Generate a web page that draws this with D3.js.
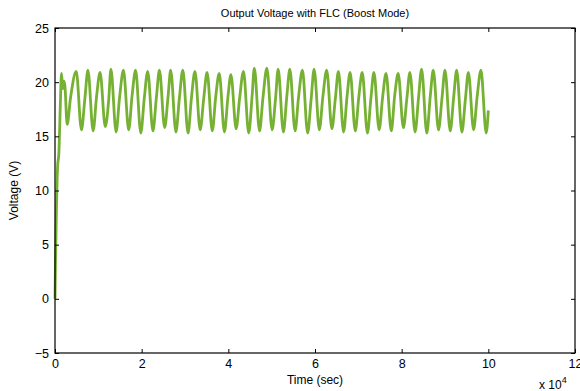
<!DOCTYPE html>
<html>
  <head>
    <meta charset="utf-8">
    <title>Output Voltage with FLC (Boost Mode)</title>
    <style>
      body { margin: 0; background: #fff; }
      text { font-family: "Liberation Sans", Arial, sans-serif; fill: #000; }
    </style>
  </head>
  <body>
    <svg id="chart" width="580" height="391"></svg>
    <script src="https://d3js.org/d3.v7.min.js"></script>
    <script>
      // time values are in units of 10^4 s (the axis multiplier)
      startTime = [0, 0.01, 0.03, 0.06, 0.09, 0.12, 0.15, 0.18, 0.21, 0.23]
      startVolt = [0.0, 3.0, 7.6, 12.2, 13.5, 17.5, 20.8, 19.4, 20.1, 19.6]

      troughTime = [0.28, 0.61, 0.88, 1.16, 1.41, 1.70, 1.98, 2.26, 2.53, 2.79, 3.07, 3.35,
                    3.63, 3.91, 4.18, 4.47, 4.72, 5.01, 5.27, 5.54, 5.83, 6.10, 6.39, 6.66,
                    6.93, 7.21, 7.48, 7.76, 8.04, 8.31, 8.58, 8.85, 9.12, 9.39, 9.66, 9.95]
      troughVolt = [16.1, 15.6, 15.5, 15.9, 15.4, 15.6, 15.3, 15.5, 15.8, 15.4, 15.3, 15.6,
                    15.5, 15.4, 15.7, 15.3, 15.5, 15.6, 15.4, 15.5, 15.3, 15.6, 15.7, 15.4,
                    15.5, 15.3, 15.6, 15.5, 15.8, 15.4, 15.3, 15.6, 15.5, 15.4, 15.6, 15.3]

      shoulderTime = [0.36, 0.69, 0.96, 1.24, 1.49, 1.78, 2.06, 2.34, 2.61, 2.87, 3.15, 3.43,
                      3.71, 3.99, 4.26, 4.55, 4.80, 5.09, 5.35, 5.62, 5.91, 6.18, 6.47, 6.74,
                      7.01, 7.29, 7.56, 7.84, 8.12, 8.39, 8.66, 8.93, 9.20, 9.47, 9.74]
      shoulderVolt = [18.6, 18.5, 18.7, 18.4, 18.6, 18.8, 18.5, 18.6, 18.7, 18.5, 18.6, 18.4,
                      18.7, 18.6, 18.5, 18.8, 18.6, 18.5, 18.7, 18.6, 18.4, 18.6, 18.5, 18.7,
                      18.6, 18.5, 18.6, 18.8, 18.5, 18.6, 18.7, 18.5, 18.6, 18.4, 18.6]

      peakTime = [0.49, 0.76, 1.04, 1.29, 1.58, 1.86, 2.14, 2.41, 2.67, 2.95, 3.23, 3.51,
                  3.79, 4.06, 4.35, 4.60, 4.89, 5.15, 5.42, 5.71, 5.98, 6.27, 6.54, 6.81,
                  7.09, 7.36, 7.64, 7.92, 8.19, 8.46, 8.73, 9.00, 9.27, 9.54, 9.83]
      peakVolt = [21.0, 21.1, 20.9, 21.2, 21.1, 21.1, 21.0, 21.1, 21.1, 21.1, 21.0, 20.9,
                  20.8, 20.7, 21.0, 21.3, 21.3, 21.2, 21.2, 21.1, 21.2, 21.1, 21.0, 20.9,
                  20.9, 20.9, 20.8, 20.8, 20.9, 21.2, 21.1, 21.1, 21.1, 20.9, 21.1]

      endTime = [10.0]
      endVolt = [17.4]

      xTicks = [0, 2, 4, 6, 8, 10, 12]
      yTicks = [-5, 0, 5, 10, 15, 20, 25]

      width = 580
      height = 391
      margin = {top: 28, right: 5, bottom: 38, left: 55}

      // gather every read-off point into one sorted list
      points = []
      startTime.forEach((t, i) => points.push({ t: t, v: startVolt[i] }))
      troughTime.forEach((t, i) => points.push({ t: t, v: troughVolt[i] }))
      shoulderTime.forEach((t, i) => points.push({ t: t, v: shoulderVolt[i] }))
      peakTime.forEach((t, i) => points.push({ t: t, v: peakVolt[i] }))
      endTime.forEach((t, i) => points.push({ t: t, v: endVolt[i] }))
      points.sort((a, b) => a.t - b.t)

      xScale = d3.scaleLinear()
        .domain([0, 12])
        .range([margin.left, width - margin.right])
      yScale = d3.scaleLinear()
        .domain([-5, 25])
        .range([height - margin.bottom, margin.top])

      svg = d3.select('#chart')

      line = d3.line()
        .x(d => xScale(d.t))
        .y(d => yScale(d.v))
        .curve(d3.curveMonotoneX)

      svg.append('path')
        .datum(points)
        .attr('fill', 'none')
        .attr('stroke', '#77b134')
        .attr('stroke-width', 2.8)
        .attr('stroke-linejoin', 'round')
        .attr('d', line)

      // MATLAB style box with inward ticks on every side
      function styleAxis(g) {
        g.select('.domain').remove()
        g.selectAll('.tick line').attr('stroke', '#000')
        g.selectAll('.tick text').style('font-size', '12.5px')
      }

      svg.append('g')
        .attr('transform', `translate(0,${ yScale(-5) })`)
        .call(d3.axisBottom(xScale).tickValues(xTicks).tickSize(-4).tickPadding(6))
        .call(styleAxis)

      svg.append('g')
        .attr('transform', `translate(0,${ yScale(25) })`)
        .call(d3.axisTop(xScale).tickValues(xTicks).tickSize(-4).tickFormat(''))
        .call(styleAxis)

      svg.append('g')
        .attr('transform', `translate(${ xScale(0) },0)`)
        .call(d3.axisLeft(yScale).tickValues(yTicks).tickSize(-4).tickPadding(6))
        .call(styleAxis)

      svg.append('g')
        .attr('transform', `translate(${ xScale(12) },0)`)
        .call(d3.axisRight(yScale).tickValues(yTicks).tickSize(-4).tickFormat(''))
        .call(styleAxis)

      svg.append('rect')
        .attr('x', xScale(0))
        .attr('y', yScale(25))
        .attr('width', xScale(12) - xScale(0))
        .attr('height', yScale(-5) - yScale(25))
        .attr('fill', 'none')
        .attr('stroke', '#000')
        .attr('stroke-width', 1.2)

      midX = (xScale(0) + xScale(12)) / 2

      svg.append('text')
        .attr('x', midX)
        .attr('y', 17)
        .attr('text-anchor', 'middle')
        .style('font-size', '11px')
        .text('Output Voltage with FLC (Boost Mode)')

      svg.append('text')
        .attr('x', midX)
        .attr('y', 384)
        .attr('text-anchor', 'middle')
        .style('font-size', '12px')
        .text('Time (sec)')

      svg.append('text')
        .attr('transform', `translate(18,${ (yScale(-5) + yScale(25)) / 2 }) rotate(-90)`)
        .attr('text-anchor', 'middle')
        .style('font-size', '12px')
        .text('Voltage (V)')

      mult = svg.append('text')
        .attr('x', 539)
        .attr('y', 389)
        .style('font-size', '12px')
      mult.append('tspan').text('x 10')
      mult.append('tspan')
        .attr('dy', -6)
        .style('font-size', '9px')
        .text('4')
    </script>
  </body>
</html>
